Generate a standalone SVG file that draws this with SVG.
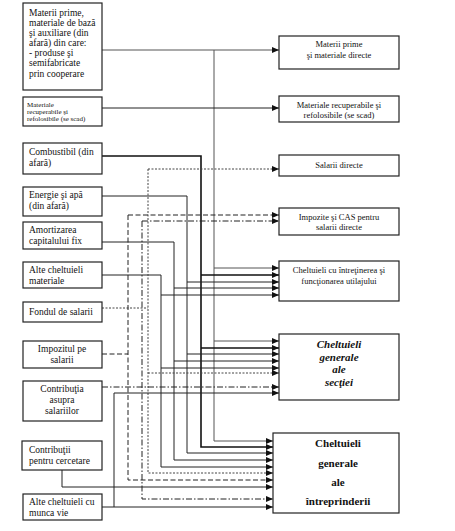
<svg xmlns="http://www.w3.org/2000/svg" width="455" height="531" viewBox="0 0 455 531" font-family="'Liberation Serif', 'Times New Roman', serif">
<defs>
<marker id="ah" viewBox="0 0 7 6" refX="7" refY="3" markerWidth="7" markerHeight="6" markerUnits="userSpaceOnUse" orient="auto">
<path d="M0,0 L7,3 L0,6 z" fill="#111"/>
</marker>
<style>
.box{fill:#fff;stroke:#222;stroke-width:1.2}
.t{font-family:'Liberation Serif','Times New Roman',serif;font-size:9.5px;fill:#111}
.s{font-size:7px}
.m{font-size:8.5px}
.c{text-anchor:middle}
.bi{font-weight:bold;font-style:italic;font-size:11px}
.b{font-weight:bold;font-size:11px}
.ln{fill:none;stroke:#222;stroke-width:1}
.th{stroke-width:1.6;stroke:#111}
.gr{stroke:#555}
.da{stroke-dasharray:5,2.5}
.dd{stroke-dasharray:6,2,1.5,2}
.dt{stroke-dasharray:2,1.5;stroke:#444}
.ar{marker-end:url(#ah)}
</style>
</defs>

<g id="connectors">
<path class="ln gr ar" d="M102,50 H279"/>
<path class="ln gr ar" d="M214,50 V441 H273"/>
<path class="ln gr ar" d="M214,268 H279"/>
<path class="ln gr ar" d="M214,341 H279"/>
<path class="ln ar" d="M102,108 H279"/>
<path class="ln th ar" d="M102,156 H201 V447 H273"/>
<path class="ln th ar" d="M201,275 H279"/>
<path class="ln th ar" d="M201,348 H279"/>
<path class="ln ar" d="M102,196 H187 V453 H273"/>
<path class="ln ar" d="M187,282 H279"/>
<path class="ln ar" d="M187,354 H279"/>
<path class="ln ar" d="M102,242 H174 V460 H273"/>
<path class="ln ar" d="M174,288 H279"/>
<path class="ln ar" d="M174,361 H279"/>
<path class="ln ar" d="M102,275 H161 V467 H273"/>
<path class="ln ar" d="M161,295 H279"/>
<path class="ln ar" d="M161,368 H279"/>
<path class="ln dt" d="M102,308 H148"/>
<path class="ln dt ar" d="M148,169 H279"/>
<path class="ln dt ar" d="M148,169 V473 H273"/>
<path class="ln dt ar" d="M148,373 H279"/>
<path class="ln da" d="M102,354 H128"/>
<path class="ln da ar" d="M128,215 H279"/>
<path class="ln da ar" d="M128,215 V480 H273"/>
<path class="ln dd ar" d="M102,387 H279"/>
<path class="ln dd ar" d="M142,221 H279"/>
<path class="ln dd ar" d="M142,221 V499 H273"/>
<path class="ln ar" d="M62,470 V487 H273"/>
<path class="ln ar" d="M102,507 H273"/>
<path class="ln ar" d="M114,507 V393 H279"/>
</g>

<g id="src-materii-prime">
<rect class="box" x="23" y="3" width="79" height="87"/>
<text class="t" x="29" y="16">Materii prime,</text>
<text class="t" x="29" y="26">materiale de bază</text>
<text class="t" x="29" y="36">şi auxiliare (din</text>
<text class="t" x="29" y="46">afară) din care:</text>
<text class="t" x="29" y="56">- produse şi</text>
<text class="t" x="29" y="66">semifabricate</text>
<text class="t" x="29" y="77">prin cooperare</text>
</g>
<g id="src-materiale-recuperabile">
<rect class="box" x="23" y="97" width="79" height="29"/>
<text class="t s" x="27" y="107">Materiale</text>
<text class="t s" x="27" y="114">recuperabile şi</text>
<text class="t s" x="27" y="121">refolosibile (se scad)</text>
</g>
<g id="src-combustibil">
<rect class="box" x="23" y="143" width="79" height="31"/>
<text class="t" x="29" y="155">Combustibil (din</text>
<text class="t" x="29" y="166">afară)</text>
</g>
<g id="src-energie">
<rect class="box" x="23" y="187" width="79" height="29"/>
<text class="t" x="29" y="198">Energie şi apă</text>
<text class="t" x="29" y="209">(din afară)</text>
</g>
<g id="src-amortizarea">
<rect class="box" x="23" y="222" width="79" height="27"/>
<text class="t" x="29" y="233">Amortizarea</text>
<text class="t" x="29" y="244">capitalului fix</text>
</g>
<g id="src-alte-materiale">
<rect class="box" x="23" y="262" width="79" height="26"/>
<text class="t" x="29" y="273">Alte cheltuieli</text>
<text class="t" x="29" y="284">materiale</text>
</g>
<g id="src-fondul">
<rect class="box" x="23" y="302" width="79" height="20"/>
<text class="t" x="29" y="315">Fondul de salarii</text>
</g>
<g id="src-impozitul">
<rect class="box" x="23" y="341" width="79" height="27"/>
<text class="t c" x="62" y="352">Impozitul pe</text>
<text class="t c" x="62" y="363">salarii</text>
</g>
<g id="src-contributia">
<rect class="box" x="23" y="381" width="79" height="40"/>
<text class="t c" x="62" y="392">Contribuţia</text>
<text class="t c" x="62" y="403">asupra</text>
<text class="t c" x="62" y="414">salariilor</text>
</g>
<g id="src-cercetare">
<rect class="box" x="22" y="441" width="80" height="29"/>
<text class="t" x="29" y="453">Contribuţii</text>
<text class="t" x="29" y="464">pentru cercetare</text>
</g>
<g id="src-munca-vie">
<rect class="box" x="23" y="494" width="79" height="26"/>
<text class="t" x="29" y="505">Alte cheltuieli cu</text>
<text class="t" x="29" y="516">munca vie</text>
</g>

<g id="dst-materii-directe">
<rect class="box" x="279" y="36" width="120" height="33"/>
<text class="t m c" x="339" y="47">Materii prime</text>
<text class="t m c" x="339" y="58">şi materiale directe</text>
</g>
<g id="dst-materiale-recuperabile">
<rect class="box" x="279" y="96" width="120" height="26"/>
<text class="t m c" x="339" y="108">Materiale recuperabile şi</text>
<text class="t m c" x="339" y="118">refolosibile (se scad)</text>
</g>
<g id="dst-salarii-directe">
<rect class="box" x="279" y="155" width="120" height="21"/>
<text class="t m c" x="339" y="168">Salarii directe</text>
</g>
<g id="dst-impozite-cas">
<rect class="box" x="279" y="208" width="120" height="27"/>
<text class="t m c" x="339" y="220">Impozite şi CAS pentru</text>
<text class="t m c" x="339" y="230">salarii directe</text>
</g>
<g id="dst-utilaj">
<rect class="box" x="279" y="261" width="120" height="40"/>
<text class="t m c" x="339" y="273">Cheltuieli  cu întreţinerea şi</text>
<text class="t m c" x="339" y="284">funcţionarea utilajului</text>
</g>
<g id="dst-sectie">
<rect class="box" x="279" y="334" width="120" height="66"/>
<text class="t bi c" x="339" y="348">Cheltuieli</text>
<text class="t bi c" x="339" y="361">generale</text>
<text class="t bi c" x="339" y="373">ale</text>
<text class="t bi c" x="339" y="386">secţiei</text>
</g>
<g id="dst-intreprindere">
<rect class="box" x="273" y="433" width="126" height="80"/>
<text class="t b c" x="338" y="447">Cheltuieli</text>
<text class="t b c" x="338" y="467">generale</text>
<text class="t b c" x="338" y="486">ale</text>
<text class="t b c" x="338" y="505">întreprinderii</text>
</g>
</svg>
